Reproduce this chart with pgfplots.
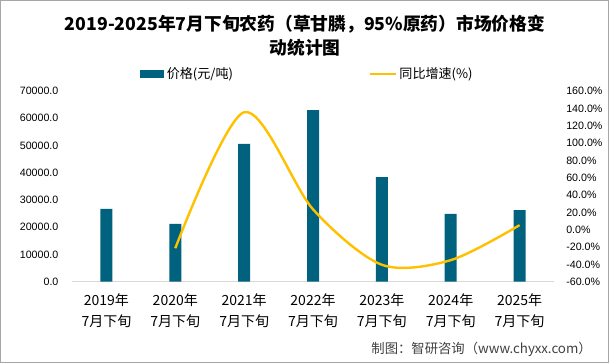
\documentclass[border=0pt]{standalone}
\usepackage{pgfplots}
\pgfplotsset{compat=1.18}
\usepackage{fontspec}
\setmainfont{Noto Sans CJK SC}
\newfontfamily\lat{Liberation Sans}
\definecolor{barblue}{HTML}{00627F}
\definecolor{lineyellow}{HTML}{FFC000}
\definecolor{baseline}{HTML}{D9D9D9}
\definecolor{framegray}{HTML}{A6A6A6}
\begin{document}
\begin{tikzpicture}
\path[use as bounding box] (0pt,0pt) rectangle (456.75pt,272.25pt);
\draw[framegray, line width=0.75pt] (0.375pt,0.375pt) rectangle (456.375pt,271.875pt);
\node[align=center, font=\bfseries\fontsize{13.3}{18}\selectfont, anchor=center] at (228.75pt,245.2pt)
  {2019-2025年7月下旬农药（草甘膦，95\%原药）市场价格变\\动统计图};
\begin{axis}[
  at={(54pt,61pt)}, anchor=south west,
  scale only axis, width=361.5pt, height=143pt,
  xmin=-0.5, xmax=6.5, ymin=0, ymax=70000,
  xtick={0,1,2,3,4,5,6},
  xticklabels={2019年\\7月下旬,2020年\\7月下旬,2021年\\7月下旬,2022年\\7月下旬,2023年\\7月下旬,2024年\\7月下旬,2025年\\7月下旬},
  xticklabel style={align=center, font=\fontsize{10.5}{15.5}\selectfont, inner sep=0pt, yshift=-9pt},
  ytick={0,10000,...,70000},
  scaled y ticks=false,
  yticklabel style={font=\lat\fontsize{8}{9}\selectfont, inner sep=0pt, xshift=-10pt},
  /pgf/number format/assume math mode=true,
  /pgf/number format/.cd, fixed, fixed zerofill, precision=1, 1000 sep={}, /pgfplots/.cd,
  major tick length=0pt,
  axis x line*=bottom, axis y line*=left,
  x axis line style={-, draw=baseline, line width=0.75pt},
  y axis line style={draw=none},
  legend style={at={(axis description cs:0.489,1.089)}, anchor=center, draw=none, fill=none,
    legend columns=2, font=\fontsize{9.8}{11}\selectfont,
    /tikz/every even column/.append style={column sep=100pt}},
  legend cell align=left,
]
\addplot[ybar, bar width=9pt, fill=barblue, draw=none,
  legend image code/.code={\fill[barblue] (0pt,-3pt) rectangle (18pt,3pt);}]
  coordinates {(0,26700) (1,21200) (2,50550) (3,63000) (4,38400) (5,24850) (6,26300)};
\addlegendentry{价格(元/吨)}
\addlegendimage{lineyellow, line width=1.8pt, legend image code/.code={\draw[lineyellow, line width=1.8pt] (0pt,0pt) -- (19pt,0pt);}}
\addlegendentry{同比增速(\%)}
\end{axis}
\begin{axis}[
  at={(54pt,61pt)}, anchor=south west,
  scale only axis, width=361.5pt, height=143pt,
  xmin=-0.5, xmax=6.5, ymin=-60, ymax=160,
  hide x axis,
  axis y line*=right,
  y axis line style={draw=none},
  major tick length=0pt,
  ytick={-60,-40,...,160},
  yticklabel={\pgfmathprintnumber{\tick}\%},
  yticklabel style={font=\lat\fontsize{8}{9}\selectfont, inner sep=0pt, xshift=9pt},
  /pgf/number format/assume math mode=true,
  /pgf/number format/.cd, fixed, fixed zerofill, precision=1, /pgfplots/.cd,
]
\addplot[lineyellow, line width=1.8pt, smooth, tension=0.5, no markers]
  coordinates {(1,-21.5) (2,135.5) (3,23.5) (4,-40.5) (5,-35.2) (6,5.2)};
\end{axis}
\node[anchor=east, inner sep=0pt, font=\fontsize{10}{12}\selectfont, text=black!75] at (444pt,10.5pt) {制图：智研咨询（www.chyxx.com）};
\end{tikzpicture}
\end{document}
